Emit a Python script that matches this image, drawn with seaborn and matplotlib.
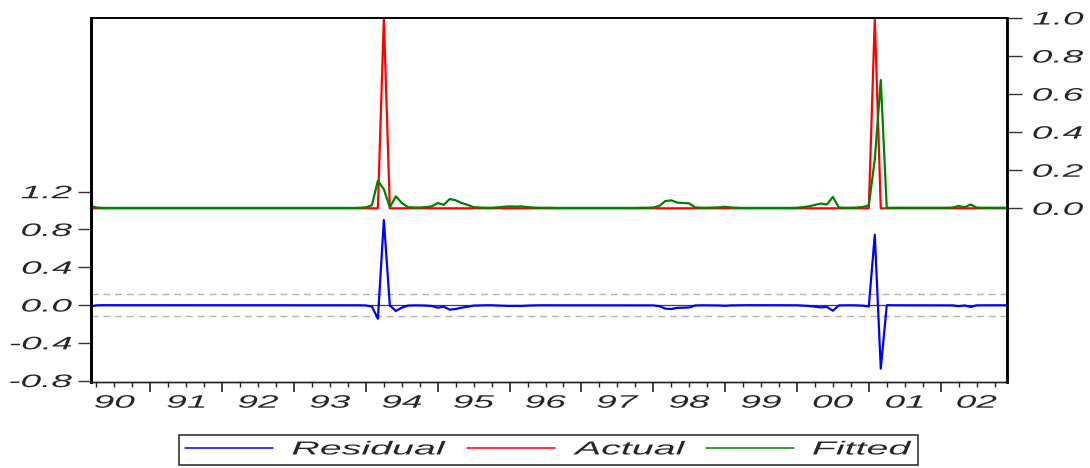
import numpy as np
import pandas as pd
import matplotlib
matplotlib.use("Agg")
import matplotlib.pyplot as plt
import seaborn as sns
from matplotlib.ticker import FixedLocator
from matplotlib.lines import Line2D
from matplotlib.patheffects import AbstractPathEffect
from matplotlib.transforms import Affine2D, Bbox
from matplotlib.offsetbox import TextArea

# ---------------- data (monthly, 1990M03 - 2002M12) ----------------
start_period = "1990-03"
end_period = "2002-12"
crisis_months = ["1994-04", "2001-02"]          # Actual = 1 in these months, 0 otherwise

fitted_1990 = [0.014, 0.004, 0.002, 0.002, 0.002, 0.002, 0.002, 0.002, 0.002, 0.002]
fitted_1991 = [0.002, 0.002, 0.002, 0.002, 0.002, 0.002, 0.002, 0.002, 0.002, 0.002, 0.002, 0.002]
fitted_1992 = [0.002, 0.002, 0.002, 0.002, 0.002, 0.002, 0.002, 0.002, 0.002, 0.002, 0.002, 0.002]
fitted_1993 = [0.002, 0.002, 0.002, 0.002, 0.002, 0.002, 0.002, 0.002, 0.002, 0.002, 0.002, 0.003]
fitted_1994 = [0.005, 0.016, 0.145, 0.100, 0.005, 0.063, 0.028, 0.006, 0.004, 0.004, 0.006, 0.010]
fitted_1995 = [0.028, 0.018, 0.049, 0.042, 0.028, 0.018, 0.006, 0.004, 0.003, 0.003, 0.005, 0.008]
fitted_1996 = [0.010, 0.009, 0.010, 0.006, 0.004, 0.003, 0.003, 0.003, 0.002, 0.002, 0.002, 0.002]
fitted_1997 = [0.002, 0.002, 0.002, 0.002, 0.002, 0.002, 0.002, 0.002, 0.002, 0.002, 0.003, 0.003]
fitted_1998 = [0.004, 0.012, 0.038, 0.042, 0.030, 0.028, 0.026, 0.005, 0.003, 0.003, 0.004, 0.005]
fitted_1999 = [0.008, 0.004, 0.003, 0.002, 0.002, 0.002, 0.002, 0.002, 0.002, 0.002, 0.002, 0.002]
fitted_2000 = [0.003, 0.006, 0.010, 0.018, 0.025, 0.020, 0.060, 0.004, 0.003, 0.003, 0.004, 0.007]
fitted_2001 = [0.016, 0.256, 0.674, 0.002, 0.003, 0.003, 0.003, 0.003, 0.003, 0.003, 0.003, 0.003]
fitted_2002 = [0.003, 0.003, 0.004, 0.012, 0.005, 0.020, 0.004, 0.003, 0.003, 0.003, 0.003, 0.003]

resid_se = 0.115                                  # +/- 1 S.E. band on residuals
year_labels = ["90", "91", "92", "93", "94", "95", "96", "97", "98", "99", "00", "01", "02"]
left_ticks = [-0.8, -0.4, 0.0, 0.4, 0.8, 1.2]
right_ticks = [0.0, 0.2, 0.4, 0.6, 0.8, 1.0]

# ---------------- build frame ----------------
periods = pd.period_range(start_period, end_period, freq="M")
tpos = np.asarray(periods.year + (periods.month - 1) / 12.0, dtype=float)
fitted = np.array(fitted_1990 + fitted_1991 + fitted_1992 + fitted_1993 + fitted_1994 +
                  fitted_1995 + fitted_1996 + fitted_1997 + fitted_1998 + fitted_1999 +
                  fitted_2000 + fitted_2001 + fitted_2002)
actual = np.array([1.0 if str(p) in crisis_months else 0.0 for p in periods])
resid = actual - fitted
df = pd.DataFrame({"t": tpos, "Residual": resid, "Actual": actual, "Fitted": fitted})

# ---------------- style ----------------
sns.set_theme(style="white")
plt.rcParams['font.family'] = ['Liberation Sans', 'DejaVu Sans']
plt.rcParams['font.style'] = 'italic'
plt.rcParams['axes.unicode_minus'] = False
FS = 13
FS_LEG = 13.5
K = 2.05      # the reference's lettering is drawn wide: widen glyphs horizontally
K_LEG = 2.1


class HStretch(AbstractPathEffect):
    """Draw text glyphs stretched horizontally around an anchor fraction of the ink box."""
    def __init__(self, k, frac):
        super().__init__()
        self.k = k
        self.frac = frac

    def draw_path(self, renderer, gc, tpath, affine, rgbFace=None):
        ext = tpath.get_extents()
        cx = ext.x0 + self.frac * ext.width
        st = Affine2D().translate(-cx, 0).scale(self.k, 1).translate(cx, 0)
        renderer.draw_path(gc, tpath, st + affine, rgbFace)


W, H = 1090, 468
fig = plt.figure(figsize=(W / 100, H / 100), dpi=100)
L, R, T, B = 90.5, 1006.5, 18, 381.5
ax = fig.add_axes([L / W, 1 - B / H, (R - L) / W, (B - T) / H])
ax2 = ax.twinx()

ax.axhline(0, color="#404040", lw=0.9, zorder=1)
ax.axhline(resid_se, color="#b4b4b4", lw=1.0, ls=(0, (5, 3.5)), zorder=1)
ax.axhline(-resid_se, color="#b4b4b4", lw=1.0, ls=(0, (5, 3.5)), zorder=1)

sns.lineplot(data=df, x="t", y="Residual", ax=ax, color="#0000ff", lw=1.6, zorder=3)
sns.lineplot(data=df, x="t", y="Actual", ax=ax2, color="#ff0000", lw=1.6)
sns.lineplot(data=df, x="t", y="Fitted", ax=ax2, color="#008000", lw=1.6)

ax.set_xlim(tpos[0], tpos[-1])
ax.set_ylim(-0.81, 3.04)
ax2.set_ylim(-0.91, 1.0)
for a in (ax, ax2):
    a.set_xlabel("")
    a.set_ylabel("")

# y ticks
ax.set_yticks(left_ticks)
ax.set_yticklabels([f"{v:.1f}" for v in left_ticks])
ax.tick_params(axis="y", which="major", left=True, direction="out", length=9.5,
               width=1.0, color="#333333", pad=4, labelsize=FS)
ax2.set_yticks(right_ticks)
ax2.set_yticklabels([f"{v:.1f}" for v in right_ticks])
ax2.tick_params(axis="y", which="major", right=True, direction="out", length=10.8,
                width=1.0, color="#333333", pad=8, labelsize=FS)

# x ticks: long at year boundaries, short at quarters, labels centred on years
years = sorted(set(periods.year))
ax.xaxis.set_major_locator(FixedLocator([y for y in years if tpos[0] < y <= tpos[-1]]))
ax.xaxis.set_minor_locator(FixedLocator([y + q / 4 for y in years for q in (1, 2, 3)
                                         if tpos[0] <= y + q / 4 <= tpos[-1]]))
ax.tick_params(axis="x", which="major", bottom=True, direction="out", length=7,
               width=1.2, color="#222222", labelbottom=False)
ax.tick_params(axis="x", which="minor", bottom=True, direction="out", length=3.5,
               width=1.0, color="#222222", labelbottom=False)
sec = ax.secondary_xaxis("bottom")
sec.set_xticks([y + 0.5 for y in years])
sec.set_xticklabels(year_labels)
sec.tick_params(axis="x", length=0, pad=9.5, labelsize=FS)
sec.spines["bottom"].set_visible(False)

for lab in ax.get_yticklabels():
    lab.set_path_effects([HStretch(K, 1.0)])
for lab in ax2.get_yticklabels():
    lab.set_path_effects([HStretch(K, 0.0)])
for lab in sec.get_xticklabels():
    lab.set_path_effects([HStretch(K, 0.5)])

# spines
for a in (ax, ax2):
    for s in a.spines.values():
        s.set_color("black")
    a.spines["left"].set_linewidth(2.0)
    a.spines["right"].set_linewidth(1.8)
    a.spines["top"].set_linewidth(1.2)
    a.spines["bottom"].set_linewidth(1.0)
    a.spines["bottom"].set_color("#222222")
ax.grid(False)
ax2.grid(False)

# legend
handles = [Line2D([], [], color="#0000ff", lw=1.1),
           Line2D([], [], color="#ff0000", lw=1.1),
           Line2D([], [], color="#008000", lw=1.1)]
leg = fig.legend(handles, ["Residual", "Actual", "Fitted"], loc="lower center",
                 bbox_to_anchor=(0.5028, 3 / H), borderaxespad=0, ncol=3, frameon=True,
                 fancybox=False, edgecolor="black", handlelength=4.7, handletextpad=1.0,
                 columnspacing=1.2, fontsize=FS_LEG, borderpad=0.35)
leg.get_frame().set_linewidth(1.2)
leg.get_frame().set_facecolor("white")
for t in leg.get_texts():
    t.set_path_effects([HStretch(K_LEG, 0.0)])


def widen_text_areas(box):
    for ch in box.get_children():
        if isinstance(ch, TextArea):
            orig = ch.get_bbox

            def wide_bbox(renderer, orig=orig):
                bb = orig(renderer)
                return Bbox.from_bounds(bb.x0, bb.y0, bb.width * K_LEG, bb.height)
            ch.get_bbox = wide_bbox
        elif hasattr(ch, "get_children"):
            widen_text_areas(ch)


widen_text_areas(leg._legend_box)

fig.savefig("out.png", dpi=100)
